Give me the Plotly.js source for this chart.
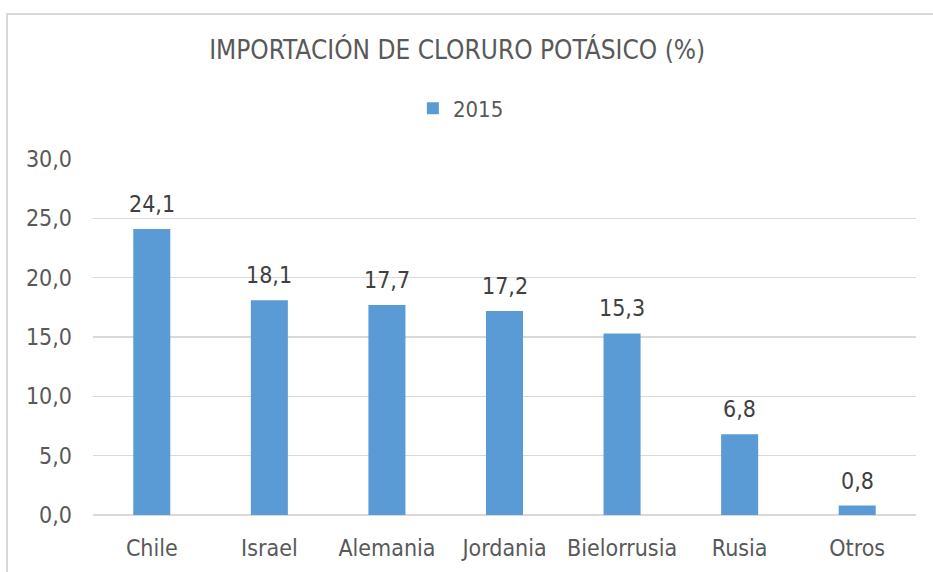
<!DOCTYPE html>
<html>
<head>
<meta charset="utf-8">
<script src="https://cdn.plot.ly/plotly-3.0.1.min.js"></script>
<style>
  html, body { margin: 0; padding: 0; background: #ffffff; }
  #wrap { position: relative; width: 933px; height: 572px; overflow: hidden; }
  #chart { position: absolute; left: 0; top: 0; width: 933px; height: 572px; }
  #frame { position: absolute; left: 6px; top: 13px; width: 940px; height: 600px;
           border: 2px solid #d9d9d9; box-sizing: border-box; pointer-events: none; }
</style>
</head>
<body>
<div id="wrap">
  <div id="chart"></div>
  <div id="frame"></div>
</div>
<script>
const categories = ["Chile", "Israel", "Alemania", "Jordania", "Bielorrusia", "Rusia", "Otros"];
const values2015 = [24.1, 18.1, 17.7, 17.2, 15.3, 6.8, 0.8];
const seriesName = "2015";
const tickValues = [0, 5, 10, 15, 20, 25, 30];
const chartTitle = "IMPORTACIÓN DE CLORURO POTÁSICO (%)";

const FONT = "'DejaVu Sans Condensed', 'DejaVu Sans', sans-serif";
const fmt = v => v.toFixed(1).replace('.', ',');

const trace = {
  type: 'bar',
  x: categories,
  y: values2015,
  name: seriesName,
  marker: { color: '#5B9BD5' },
  hoverinfo: 'x+y',
  showlegend: true
};

const annotations = categories.map((c, i) => ({
  x: c,
  y: values2015[i],
  xref: 'x',
  yref: 'y',
  text: fmt(values2015[i]),
  showarrow: false,
  yanchor: 'bottom',
  yshift: 10,
  font: { family: FONT, size: 23, color: '#404040' }
}));

const layout = {
  width: 933,
  height: 572,
  margin: { l: 93, r: 17, t: 159, b: 57 },
  paper_bgcolor: 'rgba(0,0,0,0)',
  plot_bgcolor: 'rgba(0,0,0,0)',
  separators: ',.',
  font: { family: FONT, size: 23, color: '#595959' },
  title: {
    text: chartTitle,
    font: { family: FONT, size: 26, color: '#595959' },
    x: 0.49,
    xanchor: 'center',
    xref: 'container',
    y: 0.912,
    yanchor: 'middle',
    yref: 'container'
  },
  showlegend: true,
  legend: {
    orientation: 'h',
    x: 0.447,
    xanchor: 'center',
    y: 1.142,
    yanchor: 'middle',
    font: { family: FONT, size: 22, color: '#595959' },
    bgcolor: 'rgba(0,0,0,0)'
  },
  bargap: 0.685,
  xaxis: {
    type: 'category',
    showgrid: false,
    showline: false,
    zeroline: false,
    ticks: '',
    ticklabelstandoff: 17,
    tickfont: { family: FONT, size: 23, color: '#595959' }
  },
  yaxis: {
    range: [0, 30],
    tickvals: tickValues,
    tickformat: '.1f',
    showgrid: true,
    gridcolor: '#d9d9d9',
    gridwidth: 1.5,
    zeroline: true,
    zerolinecolor: '#d9d9d9',
    zerolinewidth: 1.5,
    showline: false,
    ticks: '',
    ticklabelstandoff: 20,
    tickfont: { family: FONT, size: 23, color: '#595959' },
    fixedrange: true
  },
  annotations: annotations
};

Plotly.newPlot('chart', [trace], layout, { displayModeBar: false, staticPlot: true });
</script>
</body>
</html>
